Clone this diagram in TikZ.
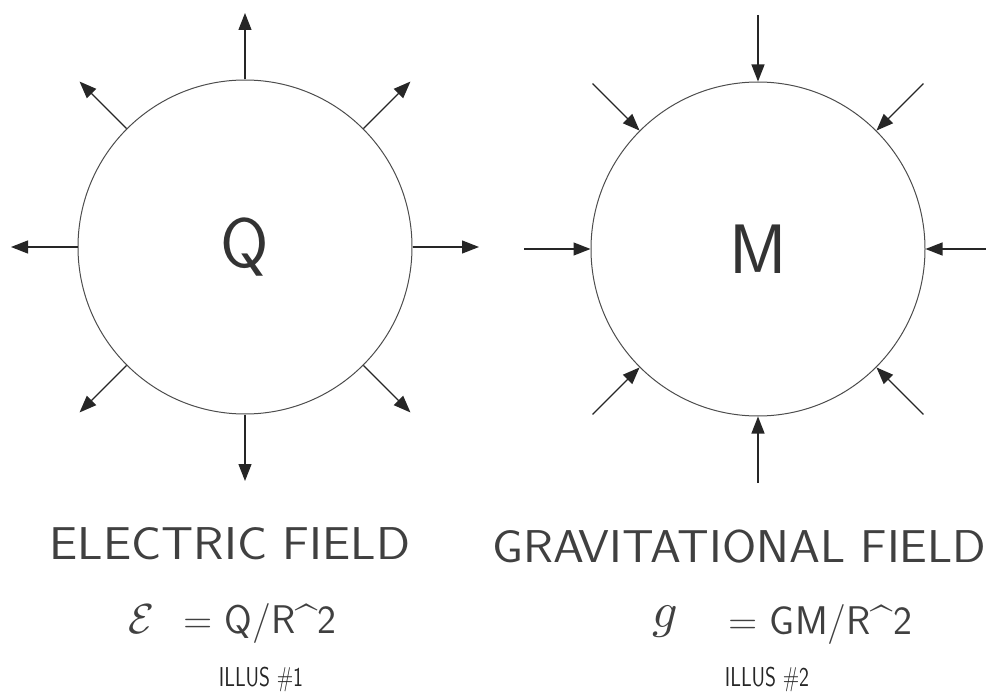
\documentclass[tikz,border=0pt]{standalone}
\usetikzlibrary{arrows.meta,calc}
\begin{document}
\begin{tikzpicture}[x=1pt,y=-1pt,
  body/.style={circle,draw=black!70,line width=1pt,minimum size=334pt,inner sep=0pt,text=black!80,font=\sffamily\fontsize{70}{70}\selectfont},
  fieldarrow/.style={line width=1.3pt,draw=black!85,-{Triangle[length=17pt,width=13pt]}},
  caption/.style={inner sep=0pt,text=black!75,font=\sffamily\fontsize{46}{48}\selectfont},
  formula/.style={inner sep=0pt,text=black!75,font=\sffamily\fontsize{40}{42}\selectfont},
  illus/.style={inner sep=0pt,text=black!85,font=\sffamily\fontsize{21}{23}\selectfont}]
\useasboundingbox (0,0) rectangle (986,693);
% charge Q
\node[body] (E) at (245,247) {Q};
\foreach \a [count=\i] in {0,45,90,135,180,225,270,315}{
  \coordinate (e\i) at ($(E.center)!234pt!(E.\a)$);
  \draw[fieldarrow] (E.\a) -- (e\i);
}
% mass M
\node[body] (G) at (758,249) {M};
\foreach \a [count=\i] in {0,45,90,135,180,225,270,315}{
  \coordinate (g\i) at ($(G.center)!234pt!(G.\a)$);
  \draw[fieldarrow] (g\i) -- (G.\a);
}
% captions
\node[caption] (capE) at (230,544) {\scalebox{1.09}[1]{ELECTRIC FIELD}};
\node[caption,anchor=west] (capG) at (492,547) {\scalebox{1.075}[1]{GRAVITATIONAL FIELD}};
\node[inner sep=0pt,text=black!75] (eps) at (141,619) {\scalebox{4.2}{$\mathcal{E}$}};
\node[formula,anchor=west] (eqE) at (183,623) {= Q/R\textasciicircum 2};
\node[inner sep=0pt,text=black!75] (gsym) at (665,622) {\scalebox{5}{$g$}};
\node[formula,anchor=west] (eqG) at (728,624) {= GM/R\textasciicircum 2};
\node[illus] (il1) at (261,679) {\scalebox{1}[1.3]{ILLUS \#1}};
\node[illus] (il2) at (767,679) {\scalebox{1}[1.3]{ILLUS \#2}};
\end{tikzpicture}
\end{document}
